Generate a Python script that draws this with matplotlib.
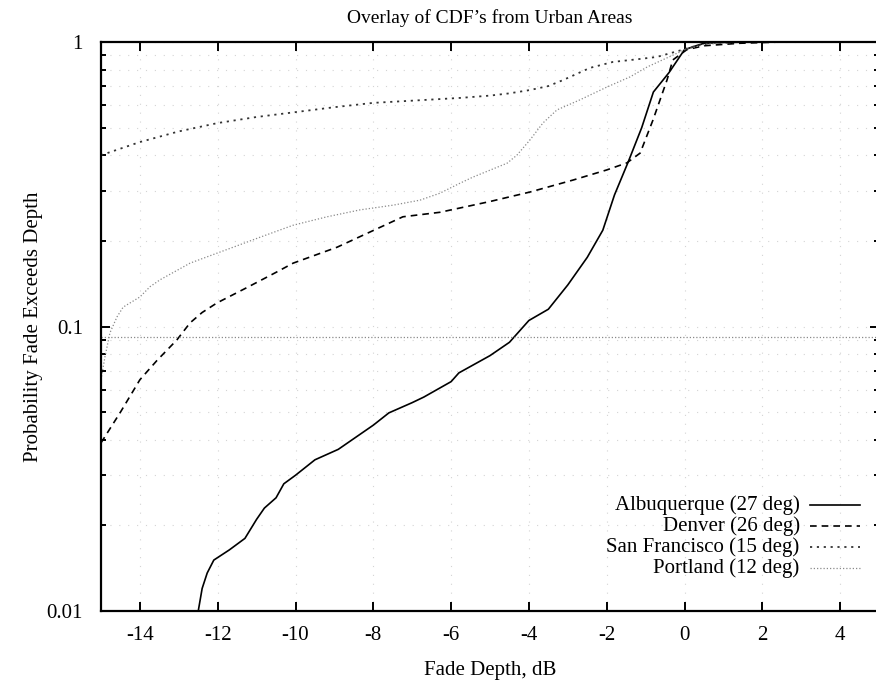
import numpy as np
import matplotlib
matplotlib.use('Agg')
import matplotlib.pyplot as plt
from matplotlib.ticker import LogLocator, NullFormatter, FixedLocator, FixedFormatter

# Fade depth (dB) vs probability that the fade exceeds that depth
alb_x = [-12.5, -12.4, -12.27, -12.1, -11.7, -11.3, -11.0, -10.8, -10.5, -10.3, -10.0,
         -9.5, -8.9, -8.0, -7.6, -7.0, -6.7, -6.0, -5.8, -5.0, -4.5, -4.0, -3.5, -3.0,
         -2.5, -2.1, -1.8, -1.45, -1.1, -0.8, -0.4, 0.0, 0.3, 0.5, 1.0, 2.0, 3.0, 5.0]
alb_p = [0.01, 0.012, 0.0136, 0.0151, 0.0164, 0.018, 0.021, 0.023, 0.025, 0.028, 0.030,
         0.034, 0.037, 0.045, 0.0497, 0.054, 0.0565, 0.064, 0.0687, 0.079, 0.088, 0.105,
         0.115, 0.14, 0.175, 0.218, 0.29, 0.378, 0.5, 0.667, 0.78, 0.94, 0.97, 0.99,
         0.997, 0.999, 1.0, 1.0]

den_x = [-15.0, -14.5, -14.0, -13.56, -13.05, -12.71, -12.4, -12.02, -11.25, -10.5, -10.06,
         -8.93, -8.08, -7.24, -6.29, -5.77, -5.0, -3.97, -2.87, -2.0, -1.48, -1.14, -0.81,
         -0.45, -0.3, 0.06, 0.5, 1.43, 2.5, 5.0]
den_p = [0.039, 0.05, 0.065, 0.076, 0.0897, 0.103, 0.112, 0.121, 0.137, 0.155, 0.167,
         0.190, 0.215, 0.243, 0.252, 0.261, 0.275, 0.297, 0.327, 0.355, 0.376, 0.407, 0.532,
         0.735, 0.865, 0.94, 0.97, 0.99, 1.0, 1.0]

sf_x = [-15.0, -14.0, -13.0, -12.0, -11.0, -10.0, -9.0, -8.0, -7.0, -5.77, -5.0, -4.5,
        -3.97, -3.5, -3.12, -2.43, -1.84, -1.2, -0.71, -0.04, 0.3, 0.7, 1.5, 5.0]
sf_p = [0.40, 0.445, 0.485, 0.519, 0.545, 0.567, 0.59, 0.611, 0.622, 0.636, 0.648, 0.66,
        0.678, 0.70, 0.735, 0.811, 0.851, 0.87, 0.886, 0.94, 0.97, 0.99, 1.0, 1.0]

por_x = [-15.0, -14.9, -14.77, -14.59, -14.43, -14.0, -13.74, -13.48, -12.71, -12.02, -11.6,
         -10.91, -10.06, -9.19, -8.34, -7.49, -6.8, -6.29, -5.77, -5.44, -4.56, -4.31,
         -3.97, -3.64, -3.28, -2.69, -1.99, -1.4, -0.96, 0.01, 0.5, 1.0, 2.0, 5.0]
por_p = [0.065, 0.078, 0.095, 0.108, 0.117, 0.127, 0.138, 0.146, 0.167, 0.181, 0.19,
         0.206, 0.227, 0.243, 0.257, 0.267, 0.278, 0.294, 0.319, 0.335, 0.375, 0.40,
         0.453, 0.519, 0.577, 0.626, 0.695, 0.754, 0.817, 0.94, 0.98, 0.995, 1.0, 1.0]
por_level = 0.092

labels = ['Albuquerque (27 deg)', 'Denver (26 deg)',
          'San Francisco (15 deg)', 'Portland (12 deg)']
x_ticks = [-14, -12, -10, -8, -6, -4, -2, 0, 2, 4]
y_ticks = [0.01, 0.1, 1]
y_tick_labels = ['0.01', '0.1', '1']

plt.rcParams['font.family'] = ['Liberation Serif', 'DejaVu Serif']
plt.rcParams['font.size'] = 15
plt.rcParams['axes.unicode_minus'] = False

styles = [
    dict(color='black', lw=1.2, linestyle='-'),
    dict(color='black', lw=1.2, linestyle=(0, (4, 3))),
    dict(color='#333333', lw=1.3, linestyle=(0, (1.2, 2.6))),
    dict(color='#8a8a8a', lw=0.9, linestyle=(0, (1, 1.6))),
]

fig = plt.figure(figsize=(8.76, 6.91), dpi=100)
ax = fig.add_axes([101 / 876, 80 / 691, 778 / 876, 569 / 691])

series = [(alb_x, alb_p), (den_x, den_p), (sf_x, sf_p), (por_x, por_p)]
for (xs, ps), st in zip(series, styles):
    ax.plot(xs, ps, **st)
ax.axhline(por_level, **styles[3])

ax.set_yscale('log')
ax.set_xlim(-15, 5)
ax.set_ylim(0.01, 1)

ax.xaxis.set_major_locator(FixedLocator(x_ticks))
ax.yaxis.set_major_locator(FixedLocator(y_ticks))
ax.yaxis.set_major_formatter(FixedFormatter(y_tick_labels))
ax.yaxis.set_minor_locator(LogLocator(base=10, subs=np.arange(2, 10)))
ax.yaxis.set_minor_formatter(NullFormatter())

ax.tick_params(which='both', direction='in', top=True, right=True, width=1.4)
ax.tick_params(which='major', length=6.5)
ax.tick_params(which='minor', length=3.8)
ax.tick_params(axis='x', pad=11)
ax.tick_params(axis='y', pad=13)

# faint dotted grid
ax.grid(True, which='major', axis='x', color='#d4d4d4', lw=0.8, linestyle=(0, (1, 7)))
ax.grid(True, which='both', axis='y', color='#d4d4d4', lw=0.8, linestyle=(0, (1, 7)))

for sp in ax.spines.values():
    sp.set_linewidth(1.6)

ax.set_title('Overlay of CDF\u2019s from Urban Areas', fontsize=14, pad=14)
ax.set_xlabel('Fade Depth, dB')
ax.set_ylabel('Probability Fade Exceeds Depth')
ax.xaxis.set_label_coords(0.5, -0.105)
ax.xaxis.label.set_va('center')
ax.yaxis.set_label_coords(-0.087, 0.5)
ax.yaxis.label.set_va('center')

# key in the lower right: right-aligned text with the line sample after it
for i, (lab, st) in enumerate(zip(labels, styles)):
    yk = 0.186 - i * 0.037
    ax.text(0.898, yk, lab, ha='right', va='center', transform=ax.transAxes)
    ax.plot([0.911, 0.976], [yk, yk], transform=ax.transAxes, **st)

fig.savefig('out.png', dpi=100)
